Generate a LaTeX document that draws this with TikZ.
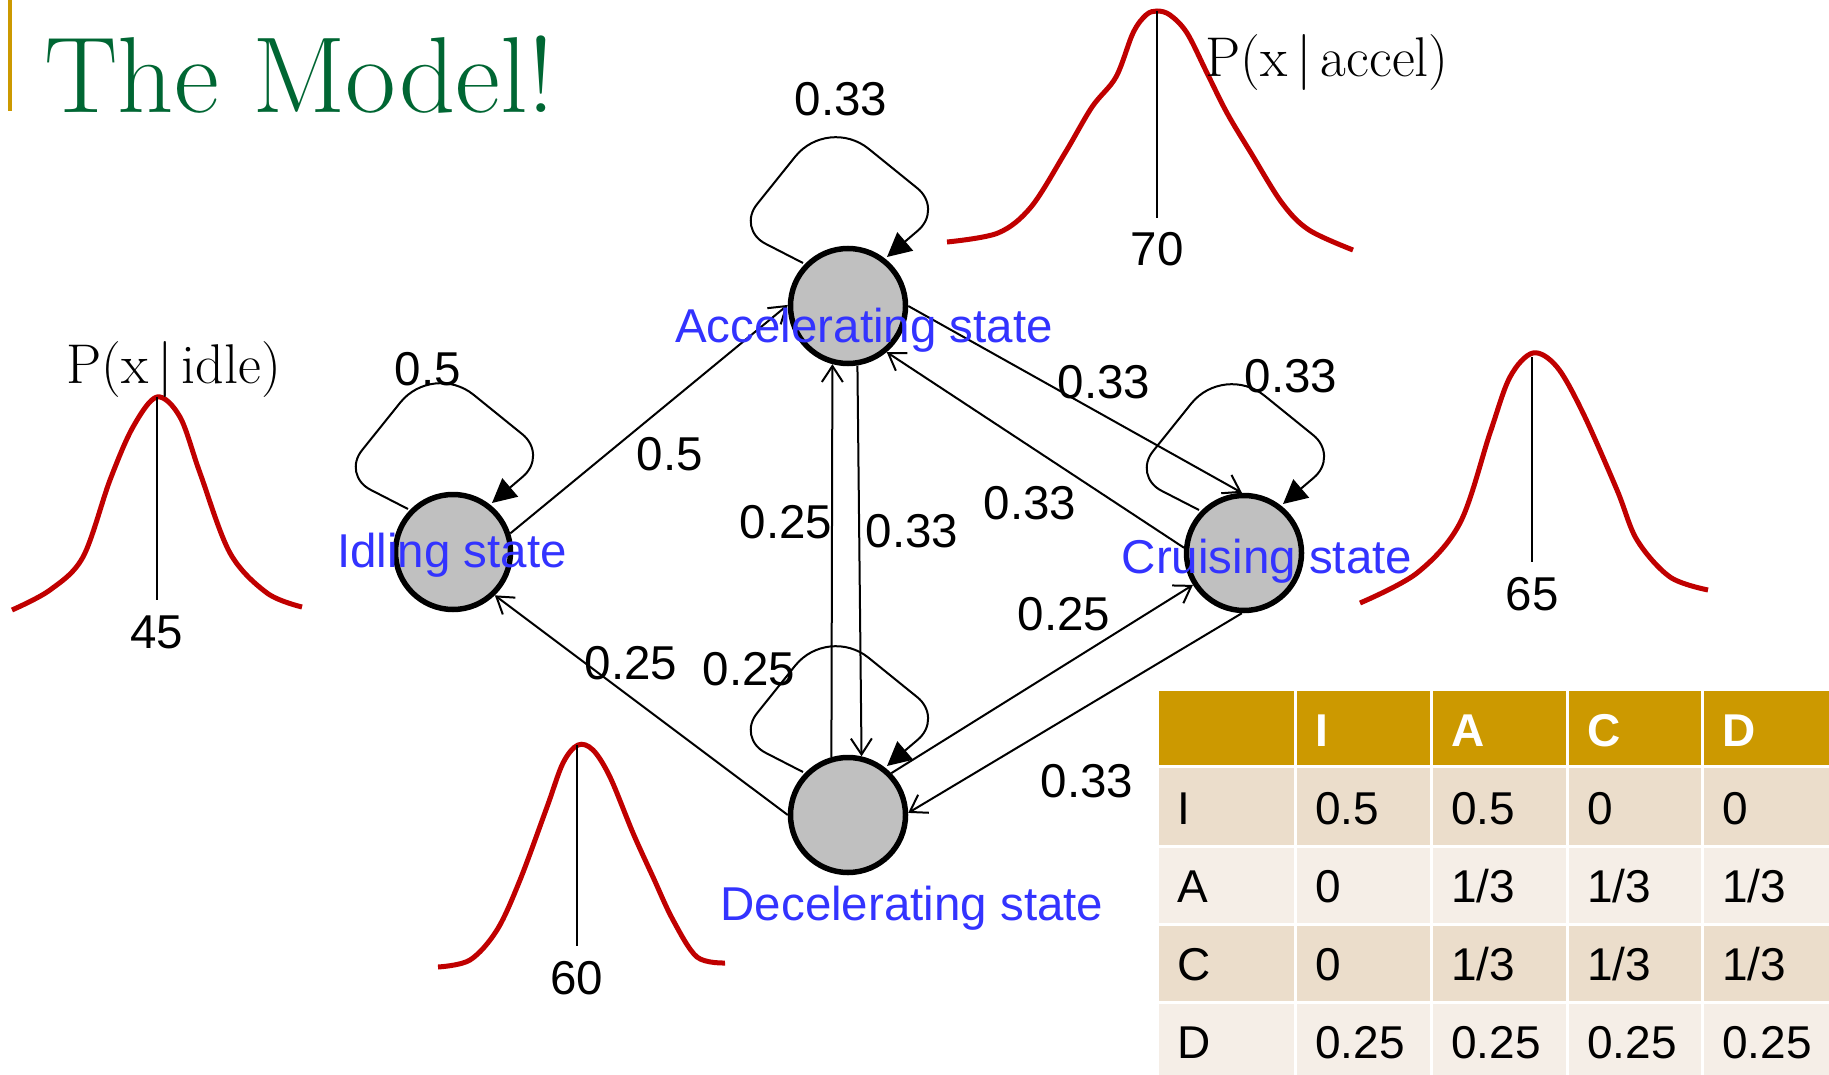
\documentclass[tikz,border=0pt]{standalone}
\usepackage{fontspec}
\usepackage{graphicx}
\usetikzlibrary{arrows.meta,calc}
\newfontfamily\arial{Liberation Sans}
\definecolor{titlegreen}{HTML}{006633}
\definecolor{gold}{HTML}{CC9900}
\definecolor{stateblue}{HTML}{3333FF}
\definecolor{curvered}{HTML}{C00000}
\definecolor{nodegray}{HTML}{C0C0C0}
\definecolor{rowA}{HTML}{EBDDCB}
\definecolor{rowB}{HTML}{F5EEE7}
\newcommand\selfloop[1]{\begin{scope}[shift={(#1)}]\draw[loopedge] (-45,-43) -- (-82.6,-62.3) .. controls (-98.2,-70.4) and (-102.0,-88.2) .. (-90.9,-101.9) -- (-52.7,-149.5) .. controls (-34.7,-171.8) and (-1.8,-175.3) .. (20.5,-157.3) -- (69.3,-117.8) .. controls (83.4,-106.4) and (83.75,-87.3) .. (70.0,-75.5) -- (39,-49);\end{scope}}
\begin{document}
\begin{tikzpicture}[x=1pt,y=-1pt,
  statenode/.style={circle, draw=black, line width=5.5pt, fill=nodegray, minimum size=115pt, inner sep=0pt},
  trans/.style={line width=2pt, -{Straight Barb[length=16pt,width=21pt]}},
  loopedge/.style={line width=2pt, -{Triangle[length=24pt,width=24pt]}},
  numlbl/.style={font=\arial\fontsize{47.5}{50}\selectfont, anchor=base, inner sep=0pt},
  statelbl/.style={numlbl, text=stateblue},
  gauss/.style={draw=curvered, line width=5pt},
  peak/.style={line width=2.5pt},
  plbl/.style={font=\fontsize{56}{58}\selectfont, anchor=base west, inner sep=0pt},
  tcell/.style={font=\arial\fontsize{46}{48}\selectfont, anchor=base west, inner sep=0pt},
  thead/.style={tcell, text=white, font=\arial\bfseries\fontsize{46}{48}\selectfont}
]
\useasboundingbox (0,0) rectangle (1829,1075);
\fill[white] (0,0) rectangle (1829,1075);

% title
\fill[gold] (7.5,0) rectangle (11.5,111);
\node[anchor=base west, inner sep=0pt, text=titlegreen, font=\fontsize{108}{110}\selectfont] (title) at (44,113) {\scalebox{1.02}[1]{The Model!}};

% gaussians
\draw[gauss] plot[smooth, tension=0.55] coordinates {(947,242) (998,233) (1031,207) (1065,153) (1092,107) (1116,77) (1133,33) (1146,15) (1157,11) (1170,15) (1187,33) (1207,73) (1227,113) (1251,153) (1282,203) (1309,230) (1353,250)};
\draw[peak] (1157,11) -- (1157,218);
\node[numlbl] (g70) at (1157,266) {70};
\node[plbl] (pacc) at (1205,77) {P(x\hspace{9pt}|\hspace{9pt}accel)};

\draw[gauss] plot[smooth, tension=0.55] coordinates {(12,610) (50,590) (83,557) (110,480) (133,427) (157,397) (180,417) (200,473) (230,553) (267,593) (302,607)};
\draw[peak] (157,397) -- (157,600);
\node[numlbl] (g45) at (157,648) {45};
\node[plbl] (pidle) at (66,384) {P(x\hspace{9pt}|\hspace{9pt}idle)};

\draw[gauss] plot[smooth, tension=0.55] coordinates {(1360,603) (1417,573) (1460,523) (1490,433) (1510,377) (1533,353) (1557,367) (1583,413) (1617,490) (1637,540) (1670,577) (1708,590)};
\draw[peak] (1532,357) -- (1532,562);
\node[numlbl] (g65) at (1532,610) {65};

\draw[gauss] plot[smooth, tension=0.55] coordinates {(438,967) (470,960) (497,930) (520,880) (547,807) (563,763) (578,745) (593,750) (610,777) (633,833) (653,877) (673,920) (697,957) (725,963)};
\draw[peak] (577,745) -- (577,946);
\node[numlbl] (g60) at (577,994) {60};

% states
\node[statenode] (acc) at (848,306) {};
\node[statenode] (idle) at (453,552) {};
\node[statenode] (cru) at (1244,553) {};
\node[statenode] (dec) at (848,815) {};

% transitions
\draw[trans] (idle.18) -- (acc.179);
\draw[trans] (acc.0) -- (cru.92);
\draw[trans] (cru.175) -- (acc.-50);
\draw[trans] (dec.44) -- (cru.-148);
\draw[trans] (cru.-92) -- (dec.2);
\draw[trans] (dec.180) -- (idle.-46);
\draw[trans] (dec.106) -- (acc.-105);
\draw[trans] (acc.-81) -- (dec.77);

\selfloop{acc}
\selfloop{idle}
\selfloop{cru}
\selfloop{dec}

% state labels
\node[statelbl] (lacc) at (864,342) {Accelerating state};
\node[statelbl] (lidle) at (452,567) {Idling state};
\node[statelbl] (lcru) at (1267,573) {Cruising state};
\node[statelbl] (ldec) at (912,920) {Decelerating state};

% probabilities
\node[numlbl] (l1) at (841,116) {0.33};
\node[numlbl] (l2) at (428,385) {0.5};
\node[numlbl] (l3) at (1291,392) {0.33};
\node[numlbl] (l4) at (749,685) {0.25};
\node[numlbl] (e1) at (670,470) {0.5};
\node[numlbl] (e2) at (1104,398) {0.33};
\node[numlbl] (e3) at (1030,519) {0.33};
\node[numlbl] (e4) at (1064,630) {0.25};
\node[numlbl] (e5) at (1087,797) {0.33};
\node[numlbl] (e6) at (631,679) {0.25};
\node[numlbl] (e7) at (786,538) {0.25};
\node[numlbl] (e8) at (912,547) {0.33};

% table
\fill[gold] (1159,691) rectangle (1294,765);
\fill[gold] (1297,691) rectangle (1430,765);
\fill[gold] (1433,691) rectangle (1566,765);
\fill[gold] (1569,691) rectangle (1701,765);
\fill[gold] (1704,691) rectangle (1829,765);
\foreach \ya/\yb/\col in {768/845/rowA, 848/923/rowB, 926/1001/rowA, 1004/1075/rowB}{
  \fill[\col] (1159,\ya) rectangle (1294,\yb);
  \fill[\col] (1297,\ya) rectangle (1430,\yb);
  \fill[\col] (1433,\ya) rectangle (1566,\yb);
  \fill[\col] (1569,\ya) rectangle (1701,\yb);
  \fill[\col] (1704,\ya) rectangle (1829,\yb);
}
\node[thead] (h1) at (1315,746) {I};
\node[thead] (h2) at (1451,746) {A};
\node[thead] (h3) at (1587,746) {C};
\node[thead] (h4) at (1722,746) {D};

\node[tcell] (r1) at (1177,824) {I};
\node[tcell] (r1a) at (1315,824) {0.5};
\node[tcell] (r1b) at (1451,824) {0.5};
\node[tcell] (r1c) at (1587,824) {0};
\node[tcell] (r1d) at (1722,824) {0};

\node[tcell] (r2) at (1177,902) {A};
\node[tcell] (r2a) at (1315,902) {0};
\node[tcell] (r2b) at (1451,902) {1/3};
\node[tcell] (r2c) at (1587,902) {1/3};
\node[tcell] (r2d) at (1722,902) {1/3};

\node[tcell] (r3) at (1177,980) {C};
\node[tcell] (r3a) at (1315,980) {0};
\node[tcell] (r3b) at (1451,980) {1/3};
\node[tcell] (r3c) at (1587,980) {1/3};
\node[tcell] (r3d) at (1722,980) {1/3};

\node[tcell] (r4) at (1177,1058) {D};
\node[tcell] (r4a) at (1315,1058) {0.25};
\node[tcell] (r4b) at (1451,1058) {0.25};
\node[tcell] (r4c) at (1587,1058) {0.25};
\node[tcell] (r4d) at (1722,1058) {0.25};
\end{tikzpicture}
\end{document}
